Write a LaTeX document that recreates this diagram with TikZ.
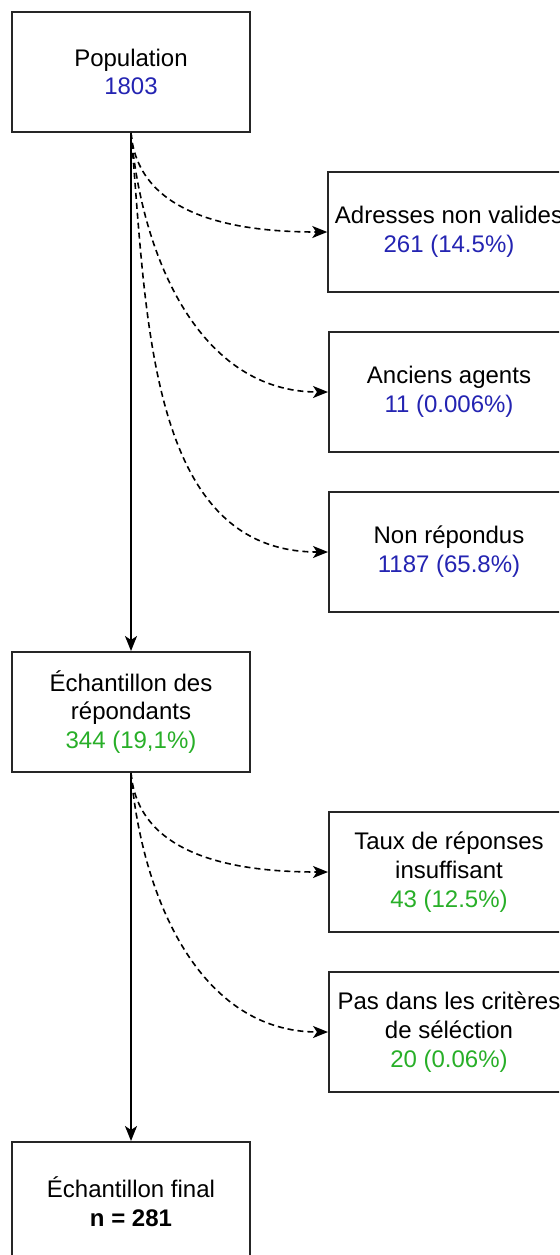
\documentclass[tikz,border=0pt]{standalone}
\usepackage{fontspec}
\setmainfont{Liberation Sans}
\usetikzlibrary{arrows.meta}
\definecolor{countblue}{RGB}{36,36,178}
\definecolor{countgreen}{RGB}{40,175,40}
\tikzset{
  flow box/.style={
    draw=black!85,
    line width=1pt,
    fill=white,
    minimum width=119pt,
    minimum height=60pt,
    align=center,
    font=\fontsize{12}{14.4}\selectfont,
  },
  excluded box/.style={
    flow box,
    minimum width=120pt,
  },
  main flow/.style={
    line width=1pt,
    -{Stealth[length=7.5pt,width=6pt,inset=2pt]},
  },
  excluded flow/.style={
    line width=0.8pt,
    dash pattern=on 3pt off 2pt,
    -{Stealth[length=7.5pt,width=6pt,inset=2pt]},
  }
}

\begin{document}
\begin{tikzpicture}[x=0.5pt,y=-0.5pt]

\useasboundingbox (0,0) rectangle (559,1255);
\clip (0,0) rectangle (559,1255);

\node[flow box] (population) at (131,72)
  {Population\\{\color{countblue}1803}};
\node[excluded box] (adresses) at (449,232)
  {Adresses non valides\\{\color{countblue}261 (14.5\%)}};
\node[excluded box] (anciens) at (449,392)
  {Anciens agents\\{\color{countblue}11 (0.006\%)}};
\node[excluded box] (nonrep) at (449,552)
  {Non répondus\\{\color{countblue}1187 (65.8\%)}};
\node[flow box] (repondants) at (131,712)
  {Échantillon des\\répondants\\{\color{countgreen}344 (19,1\%)}};
\node[excluded box] (taux) at (449,872)
  {Taux de réponses\\insuffisant\\{\color{countgreen}43 (12.5\%)}};
\node[excluded box] (criteres) at (449,1032)
  {Pas dans les critères\\de séléction\\{\color{countgreen}20 (0.06\%)}};
\node[flow box] (final) at (131,1202)
  {Échantillon final\\\textbf{n = 281}};

\draw[main flow] (population.south) -- (repondants.north);
\draw[main flow] (repondants.south) -- (final.north);

\draw[excluded flow] (population.south) to[out=-85, in=180] (adresses.west);
\draw[excluded flow] (population.south) to[out=-85, in=180] (anciens.west);
\draw[excluded flow] (population.south) to[out=-85, in=180] (nonrep.west);
\draw[excluded flow] (repondants.south) to[out=-85, in=180] (taux.west);
\draw[excluded flow] (repondants.south) to[out=-85, in=180] (criteres.west);

\end{tikzpicture}
\end{document}
